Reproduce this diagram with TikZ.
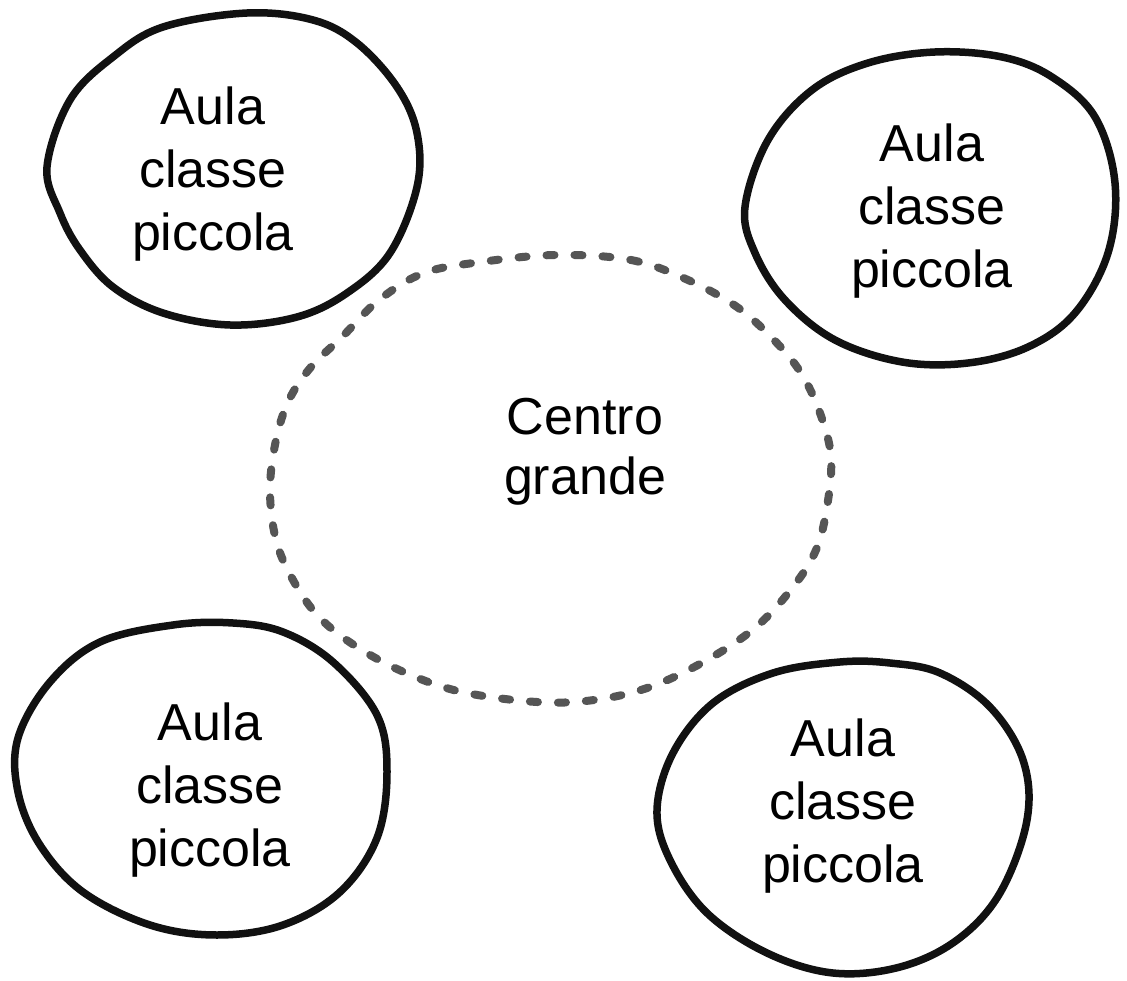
\documentclass[tikz,border=0pt]{standalone}
\usepackage{fontspec}
\setmainfont{Liberation Sans}
\definecolor{dashgray}{RGB}{85,85,85}
\definecolor{inkblack}{RGB}{17,17,17}
\tikzset{
  room/.style={line width=7.5pt, draw=inkblack, line join=round},
  bigarea/.style={line width=8pt, draw=dashgray, line cap=round, dash pattern=on 8pt off 20pt},
  lbl/.style={align=center, inner sep=0pt, text=black, font=\fontsize{52}{63}\selectfont},
  lblc/.style={align=center, inner sep=0pt, text=black, font=\fontsize{52}{60}\selectfont}
}
\begin{document}
\begin{tikzpicture}[x=1pt,y=-1pt]
\useasboundingbox[fill=white] (0,0) rectangle (1127,981);
% central dashed area
\draw[bigarea] plot[smooth cycle, tension=0.6] coordinates {(556,255) (631,260) (688,280) (737,307) (774,340) (801,373) (820,413) (831,457) (827,507) (816,550) (793,587) (756,627) (707,660) (650,687) (594,700) (537,702) (462,692) (406,673) (357,647) (319,617) (293,580) (276,540) (270,490) (276,440) (289,400) (311,367) (342,337) (379,300) (424,273) (481,262)};
% top-left
\draw[room] plot[smooth cycle, tension=0.6] coordinates {(247,13) (313,20) (357,43) (397,87) (417,133) (417,187) (390,253) (347,293) (297,317) (230,325) (163,313) (113,287) (80,250) (60,213) (47,167) (70,100) (113,57) (163,27)};
% top-right
\draw[room] plot[smooth cycle, tension=0.6] coordinates {(935,52) (1002,57) (1052,77) (1095,117) (1115,183) (1108,253) (1075,313) (1028,347) (968,363) (902,362) (835,340) (785,300) (755,253) (745,207) (768,140) (812,90) (868,63)};
% bottom-left
\draw[room] plot[smooth cycle, tension=0.6] coordinates {(173,625) (233,623) (283,632) (333,662) (377,715) (387,772) (377,838) (340,892) (283,925) (217,935) (150,925) (83,892) (40,845) (18,792) (18,738) (50,682) (100,642)};
% bottom-right
\draw[room] plot[smooth cycle, tension=0.6] coordinates {(840,662) (890,663) (940,673) (990,707) (1023,760) (1027,820) (1000,893) (957,940) (900,967) (833,973) (767,953) (707,913) (670,860) (657,810) (673,753) (713,703) (773,673)};
% labels
\node[lbl] (tl) at (213,174) {Aula\\classe\\piccola};
\node[lbl] (tr) at (932,211.5) {Aula\\classe\\piccola};
\node[lbl] (bl) at (210,790.5) {Aula\\classe\\piccola};
\node[lbl] (br) at (843,806.5) {Aula\\classe\\piccola};
\node[lblc] (cg) at (585,451.5) {Centro\\grande};
\end{tikzpicture}
\end{document}
